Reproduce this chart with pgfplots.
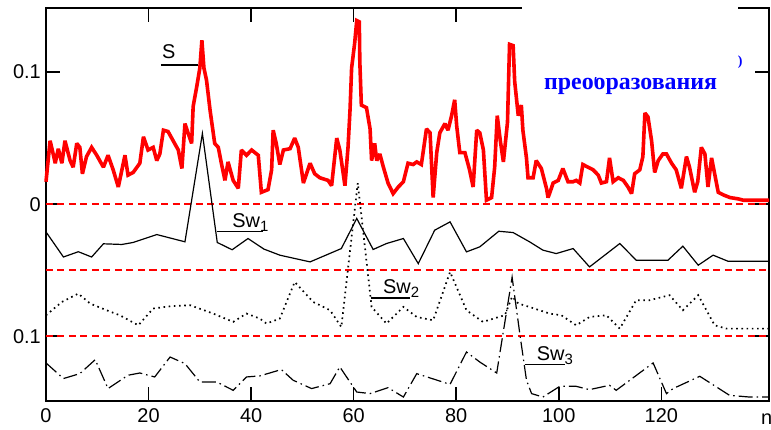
\documentclass[border=0pt]{standalone}
\usepackage{fontspec}
\setmainfont{Liberation Sans}
\newfontfamily\capfont{Liberation Serif}
\usepackage{pgfplots}
\pgfplotsset{compat=1.18}
\usepackage{pgfplotstable}

% signal S and its wavelet components Sw1..Sw3 (offset downwards)
\pgfplotstableread{
n v
0 0.017
0.8 0.048
1.4 0.038
1.8 0.031
2.4 0.042
3.1 0.031
3.7 0.048
4.7 0.033
5.3 0.028
6.0 0.046
6.6 0.043
7.1 0.023
7.9 0.036
8.9 0.043
9.9 0.037
11.2 0.028
12.1 0.037
13.1 0.026
14.1 0.013
15.4 0.037
16.0 0.022
17.0 0.024
18.3 0.031
19.0 0.051
19.9 0.041
20.9 0.043
21.6 0.033
22.2 0.038
22.9 0.056
23.8 0.055
24.8 0.048
25.8 0.041
26.5 0.027
27.1 0.061
27.7 0.054
28.4 0.046
28.7 0.074
29.4 0.089
30.0 0.103
30.4 0.124
30.8 0.103
31.3 0.094
32.0 0.071
32.9 0.046
33.6 0.043
34.2 0.031
34.9 0.018
35.5 0.032
36.5 0.018
37.5 0.012
38.1 0.041
39.1 0.037
40.1 0.041
41.4 0.037
42.0 0.009
43.3 0.011
44.0 0.026
44.3 0.056
44.9 0.046
45.6 0.030
46.3 0.041
47.6 0.042
48.5 0.050
49.2 0.043
50.2 0.016
51.5 0.031
52.4 0.023
53.4 0.020
55.0 0.018
55.7 0.014
56.7 0.050
57.3 0.041
58.3 0.014
58.9 0.043
59.3 0.072
59.6 0.103
60.2 0.122
60.6 0.139
61.1 0.138
61.2 0.108
61.5 0.075
62.5 0.073
63.2 0.057
63.5 0.033
64.1 0.046
64.5 0.033
65.1 0.038
65.8 0.028
66.7 0.016
67.7 0.008
68.7 0.013
69.7 0.017
70.6 0.031
71.6 0.030
72.3 0.032
73.2 0.030
74.2 0.057
74.9 0.054
75.5 0.005
76.2 0.039
76.8 0.054
77.8 0.061
78.4 0.056
79.1 0.067
79.7 0.079
80.1 0.059
80.7 0.039
81.7 0.039
82.6 0.026
83.3 0.013
84.0 0.056
84.6 0.054
85.3 0.041
85.9 0.003
86.9 0.005
87.5 0.028
88.0 0.067
88.6 0.048
89.2 0.032
90.0 0.062
90.4 0.121
91.1 0.120
91.4 0.093
92.1 0.067
92.7 0.075
93.0 0.056
93.7 0.035
94.0 0.020
95.0 0.020
95.6 0.033
96.6 0.027
97.6 0.012
97.9 0.005
98.2 0.008
98.9 0.016
99.9 0.018
100.8 0.027
101.8 0.017
102.8 0.017
103.4 0.018
104.1 0.016
104.7 0.030
105.7 0.028
106.7 0.026
107.7 0.022
108.3 0.016
109.3 0.017
109.9 0.035
110.6 0.017
111.6 0.020
112.6 0.018
113.5 0.013
114.2 0.008
114.8 0.023
115.8 0.026
116.4 0.036
116.8 0.069
117.4 0.066
118.1 0.048
118.7 0.024
119.4 0.033
120.3 0.038
121.0 0.038
122.0 0.031
122.9 0.026
123.9 0.012
124.9 0.036
125.5 0.028
126.5 0.009
127.1 0.017
127.8 0.043
128.5 0.038
129.1 0.013
129.8 0.035
130.4 0.023
131.1 0.009
132.1 0.007
133.4 0.005
135.0 0.004
136.0 0.003
141 0.003
}\tblS

\pgfplotstableread{
n v
0 -0.021
3.4 -0.040
6.3 -0.036
8.9 -0.040
11.2 -0.030
14.8 -0.0305
17.0 -0.029
21.6 -0.023
27.1 -0.0285
30.5 0.0535
33.4 -0.029
36.3 -0.0345
39.4 -0.026
42.5 -0.034
45.6 -0.0386
51.5 -0.0437
57.6 -0.0336
60.6 -0.0108
63.8 -0.0343
66.4 -0.0298
69.7 -0.026
72.6 -0.045
75.8 -0.0197
78.8 -0.0134
82.0 -0.0361
84.6 -0.0323
88.3 -0.0205
91.1 -0.0215
94.3 -0.0285
96.9 -0.0348
99.5 -0.0374
102.8 -0.0336
106.0 -0.0475
111.9 -0.0298
115.1 -0.0424
121.3 -0.0424
124.2 -0.0318
127.2 -0.0462
130.1 -0.0386
133.0 -0.0432
141 -0.0432
}\tblSwA

\pgfplotstableread{
n v
0 -0.0841
3.1 -0.074
6.3 -0.0677
8.6 -0.0752
11.8 -0.0803
14.4 -0.0841
18.0 -0.0917
20.9 -0.079
24.2 -0.0773
28.1 -0.0765
32.6 -0.0828
36.5 -0.0891
39.1 -0.0828
41.7 -0.0866
43.0 -0.0904
45.6 -0.0866
48.5 -0.0589
52.1 -0.074
55.4 -0.0803
57.6 -0.093
60.8 0.016
63.5 -0.0778
66.4 -0.0904
69.7 -0.0778
72.3 -0.0854
75.5 -0.0879
78.8 -0.0513
82.0 -0.0803
85.2 -0.0891
89.5 -0.084
90.9 -0.070
92.1 -0.0752
94.3 -0.0778
98.2 -0.0828
100.5 -0.0841
103.4 -0.0917
106.0 -0.0854
109.3 -0.0841
111.9 -0.0942
115.1 -0.0727
117.7 -0.0727
121.6 -0.0689
124.2 -0.0803
127.2 -0.0689
130.4 -0.0917
132.7 -0.0942
141 -0.0942
}\tblSwB

\pgfplotstableread{
n v
0 -0.1202
3.4 -0.132
6.6 -0.1283
9.6 -0.1177
12.1 -0.1396
16.0 -0.1295
18.3 -0.1278
21.2 -0.1308
24.2 -0.1157
27.1 -0.1207
30.0 -0.1346
33.3 -0.1346
36.5 -0.1409
39.1 -0.1308
41.7 -0.1300
45.9 -0.1252
48.2 -0.1333
51.8 -0.1396
55.4 -0.1359
57.3 -0.1232
60.6 -0.1422
63.2 -0.1434
66.7 -0.1389
69.7 -0.146
72.3 -0.1283
78.8 -0.1364
82.0 -0.1119
84.6 -0.1195
87.9 -0.1278
88.5 -0.1131
90.9 -0.0553
92.4 -0.098
93.7 -0.1333
94.7 -0.1434
96.9 -0.146
100.2 -0.1379
103.4 -0.1379
106.0 -0.1404
109.9 -0.1371
111.2 -0.1409
118.4 -0.1202
121.0 -0.1434
122.3 -0.1396
127.5 -0.1303
133.3 -0.1447
137.2 -0.146
141 -0.146
}\tblSwC

\begin{document}
\begin{tikzpicture}
\begin{axis}[
  scale only axis, width=723bp, height=393bp,
  xmin=0, xmax=141, ymin=-0.149, ymax=0.1485,
  axis line style={line width=1.6bp},
  every tick/.style={black, line width=1.6bp},
  tick align=inside, major tick length=14bp,
  xtick={0,20,...,120},
  ytick={-0.1,0,0.1}, yticklabels={0.1,0,0.1},
  scaled y ticks=false,
  /pgf/number format/assume math mode=true,
  tick label style={font=\fontsize{20}{20}\selectfont, inner sep=0pt},
  yticklabel style={xshift=-5bp},
  xticklabel style={yshift=-7bp},
  clip=false,
]
% reference levels
\addplot[red, line width=1.8bp, dash pattern=on 7bp off 4.5bp] coordinates {(0,0) (141,0)};
\addplot[red, line width=1.8bp, dash pattern=on 7bp off 4.5bp] coordinates {(0,-0.05) (141,-0.05)};
\addplot[red, line width=1.8bp, dash pattern=on 7bp off 4.5bp] coordinates {(0,-0.1) (141,-0.1)};

\addplot[red, line width=3.6bp, line join=miter, miter limit=2] table[x=n, y=v] {\tblS};
\addplot[black, line width=1.2bp] table[x=n, y=v] {\tblSwA};
\addplot[black, line width=1.7bp, dash pattern=on 1.6bp off 3.6bp] table[x=n, y=v] {\tblSwB};
\addplot[black, line width=1.2bp, dash pattern=on 14bp off 4bp on 1.5bp off 4bp] table[x=n, y=v] {\tblSwC};

% curve labels with leader lines
\draw[black, line width=1.2bp] (axis cs:22.4,0.1053) -- (axis cs:29.6,0.1053);
\draw[black, line width=1.2bp] (axis cs:33.3,-0.0205) -- (axis cs:42.4,-0.0205);
\draw[black, line width=1.2bp] (axis cs:63.3,-0.071) -- (axis cs:70.9,-0.071);
\draw[black, line width=1.2bp] (axis cs:93.4,-0.1214) -- (axis cs:101.2,-0.1214);
\node[anchor=base west, inner sep=0pt, font=\fontsize{20}{20}\selectfont] at (axis cs:22.6,0.1106) {S};
\node[anchor=base west, inner sep=0pt, font=\fontsize{20}{20}\selectfont] at (axis cs:36.3,-0.0174) {Sw\raisebox{-4bp}{\fontsize{15}{15}\selectfont 1}};
\node[anchor=base west, inner sep=0pt, font=\fontsize{20}{20}\selectfont] at (axis cs:65.7,-0.0674) {Sw\raisebox{-4bp}{\fontsize{15}{15}\selectfont 2}};
\node[anchor=base west, inner sep=0pt, font=\fontsize{20}{20}\selectfont] at (axis cs:95.7,-0.1182) {Sw\raisebox{-4bp}{\fontsize{15}{15}\selectfont 3}};
\node[anchor=base west, inner sep=0pt, font=\fontsize{20}{20}\selectfont] at (axis cs:139.4,-0.1667) {n};

\coordinate (capText) at (axis cs:97.1,0.0871);
\coordinate (boxA) at (axis cs:92.8,0.0962);
\coordinate (boxB) at (axis cs:134.9,0.1600);
\coordinate (parenPos) at (axis cs:134.9,0.1053);
\end{axis}

% caption block, partly hidden under a white panel
\node[anchor=base west, inner sep=0pt, text=blue, font=\capfont\bfseries\fontsize{24}{24}\selectfont] at (capText) {преобразования};
\fill[white] (boxA) rectangle (boxB);
\node[anchor=base west, inner sep=0pt, text=blue, font=\capfont\bfseries\fontsize{14}{14}\selectfont] at (parenPos) {)};

\pgfresetboundingbox
\path[use as bounding box] ([shift={(-46bp,-29bp)}]current axis.south west) rectangle ([shift={(2bp,8bp)}]current axis.north east);
\end{tikzpicture}
\end{document}
